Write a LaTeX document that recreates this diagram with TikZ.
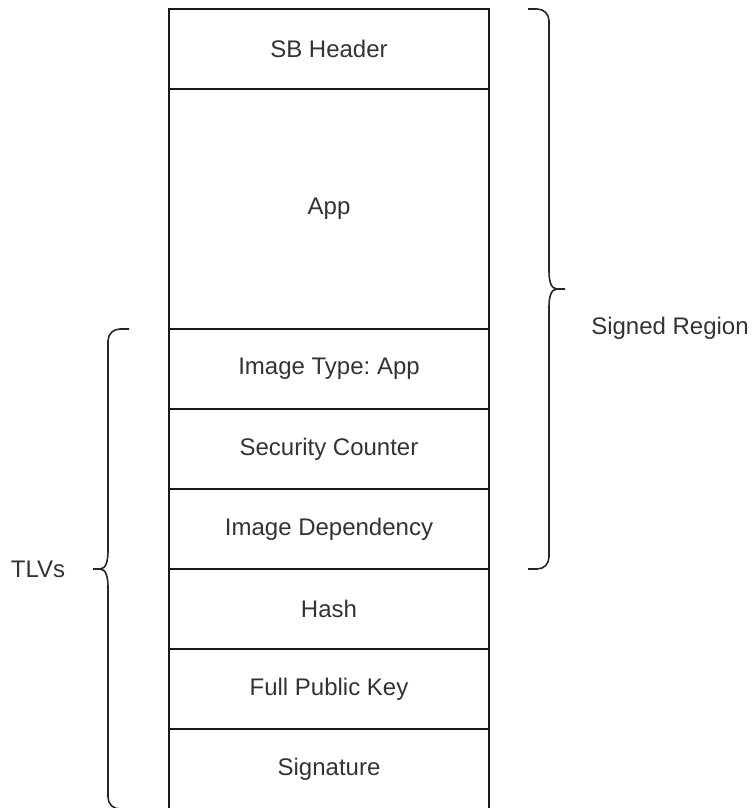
\documentclass[tikz,border=0pt]{standalone}
\usepackage{fontspec}
\setmainfont{Liberation Sans}
\frenchspacing
\begin{document}
\begin{tikzpicture}[x=1pt, y=-1pt,
  stackrow/.style={draw=black!90, line width=1.6pt, minimum width=320pt,
    minimum height=#1, inner sep=0pt, outer sep=0pt, anchor=north,
    text=black!80, font=\fontsize{24pt}{28pt}\selectfont},
  stackrow/.default=80pt,
  bracket/.style={draw=black!85, line width=1.6pt},
  label/.style={text=black!80, font=\fontsize{24pt}{28pt}\selectfont, inner sep=0pt}]
  \useasboundingbox (0,0) rectangle (752,808);
  \clip (0,0) rectangle (752,808);

  % image layout, top to bottom
  \node[stackrow]        (hdr)  at (329,9)   {SB Header};
  \node[stackrow=240pt]  (app)  at (329,89)  {App};
  \node[stackrow]        (type) at (329,329) {Image Type: App};
  \node[stackrow]        (ctr)  at (329,409) {Security Counter};
  \node[stackrow]        (dep)  at (329,489) {Image Dependency};
  \node[stackrow]        (hash) at (329,569) {Hash};
  \node[stackrow]        (key)  at (329,649) {Full Public Key};
  \node[stackrow]        (sig)  at (329,729) {Signature};

  % bracket over the signed part
  \draw[bracket] (528,9) -- (537,9) .. controls (544,9) and (549,14) .. (549,21)
    -- (549,271) .. controls (549,281) and (551,289) .. (557,289) -- (565,289);
  \draw[bracket] (557,289) .. controls (551,289) and (549,297) .. (549,307)
    -- (549,557) .. controls (549,564) and (544,569) .. (537,569) -- (528,569);
  \node[label] (signed) at (670,328) {Signed Region};

  % bracket over the TLV records
  \draw[bracket] (129,329) -- (120,329) .. controls (113,329) and (108,334) .. (108,341)
    -- (108,551) .. controls (108,561) and (106,569) .. (100,569) -- (93,569);
  \draw[bracket] (100,569) .. controls (106,569) and (108,577) .. (108,587)
    -- (108,797) .. controls (108,804) and (113,809) .. (120,809) -- (129,809);
  \node[label] (tlvs) at (38,569) {TLVs};
\end{tikzpicture}
\end{document}
